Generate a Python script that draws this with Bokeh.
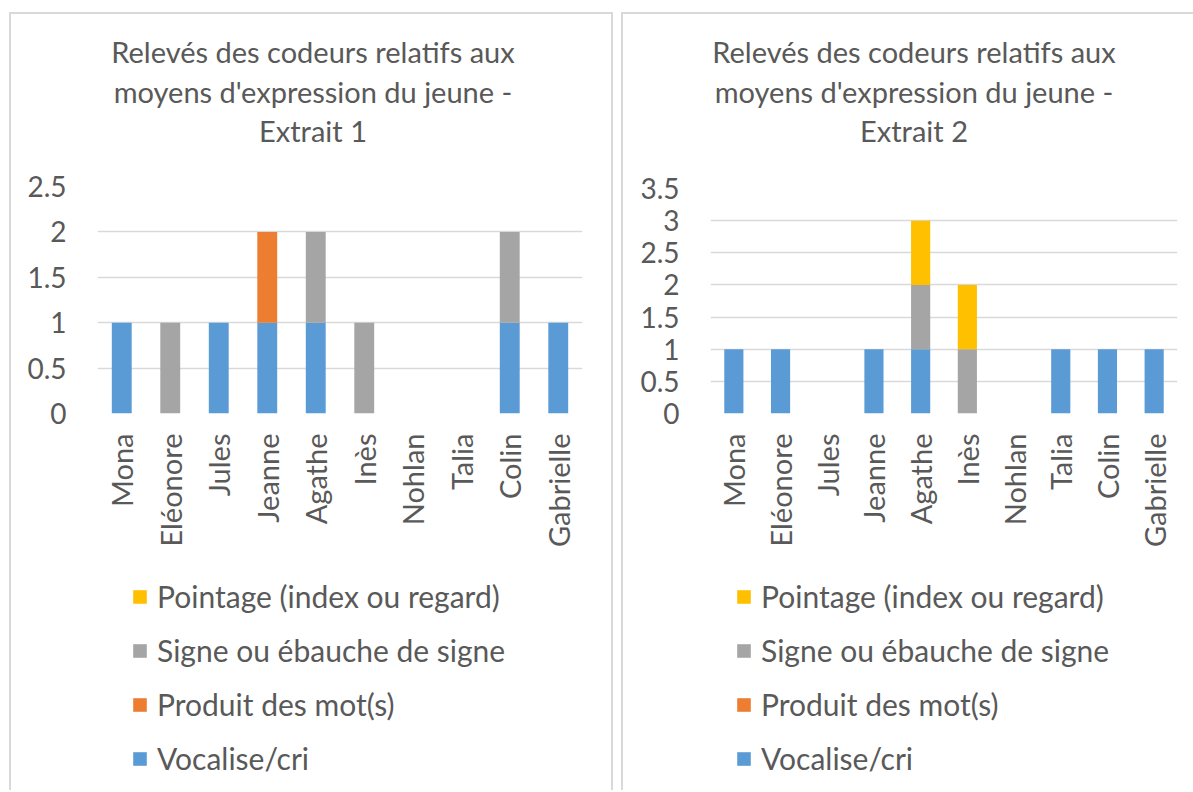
import math
from bokeh.plotting import figure
from bokeh.models import Legend, LegendItem, FactorRange, Range1d, SingleIntervalTicker, Spacer
from bokeh.layouts import row, column
from bokeh.embed import file_html
from bokeh.resources import INLINE
from bokeh.core.properties import value

names = ["Mona", "Eléonore", "Jules", "Jeanne", "Agathe", "Inès", "Nohlan", "Talia", "Colin", "Gabrielle"]
series = ["Vocalise/cri", "Produit des mot(s)", "Signe ou ébauche de signe", "Pointage (index ou regard)"]
colors = ["#5B9BD5", "#ED7D31", "#A5A5A5", "#FFC000"]

# Extrait 1
vocalise_1 = [1, 0, 1, 1, 1, 0, 0, 0, 1, 1]
produit_1 = [0, 0, 0, 1, 0, 0, 0, 0, 0, 0]
signe_1 = [0, 1, 0, 0, 1, 1, 0, 0, 1, 0]
pointage_1 = [0, 0, 0, 0, 0, 0, 0, 0, 0, 0]

# Extrait 2
vocalise_2 = [1, 1, 0, 1, 1, 0, 0, 1, 1, 1]
produit_2 = [0, 0, 0, 0, 0, 0, 0, 0, 0, 0]
signe_2 = [0, 0, 0, 0, 1, 1, 0, 0, 0, 0]
pointage_2 = [0, 0, 0, 0, 1, 1, 0, 0, 0, 0]

title_1 = ["Relevés des codeurs relatifs aux", "moyens d'expression du jeune -", "Extrait 1"]
title_2 = ["Relevés des codeurs relatifs aux", "moyens d'expression du jeune -", "Extrait 2"]

FONT = "Lato"
TXT = "#595959"
GRID = "#d9d9d9"
BORDER = "2px solid #d9d9d9"

TITLE_H = 150
CHART_H = 386
LEG_H = 240


def bare(width, height, fl, fr):
    # the column aligns this frame with the chart frame below it (fl..fr)
    f = figure(width=width, height=height, x_range=Range1d(fl, fr), y_range=Range1d(height, 0),
               output_backend="svg", toolbar_location=None,
               min_border_left=fl, min_border_right=width - fr, min_border_top=0, min_border_bottom=0,
               x_axis_location=None, y_axis_location=None)
    f.title.visible = False
    f.grid.visible = False
    f.outline_line_color = None
    return f


def make_title(lines, width, fl, fr, cx):
    t = bare(width, TITLE_H, fl, fr)
    t.text(x=[cx] * len(lines), y=[37, 76.5, 116], text=lines,
           text_align="center", text_baseline="alphabetic",
           text_font=value(FONT), text_font_size="29px", text_color=TXT)
    return t


def make_chart(vals, ymax, width, fl, fr, ft, fb):
    data = {"name": names}
    for s, v in zip(series, vals):
        data[s] = v
    p = figure(x_range=FactorRange(*names, range_padding=0), y_range=Range1d(0, ymax),
               width=width, height=CHART_H, output_backend="svg", toolbar_location=None,
               min_border_left=fl, min_border_right=width - fr, min_border_top=ft,
               min_border_bottom=CHART_H - fb)
    p.title.visible = False
    rs = p.vbar_stack(series, x="name", width=0.41, color=colors, line_color=None, source=data)
    p.outline_line_color = None
    p.xgrid.grid_line_color = None
    p.ygrid.grid_line_color = GRID
    p.ygrid.grid_line_width = 1.5
    p.yaxis.ticker = SingleIntervalTicker(interval=0.5)
    for ax in (p.xaxis[0], p.yaxis[0]):
        ax.axis_line_color = None
        ax.major_tick_line_color = None
        ax.minor_tick_line_color = None
        ax.major_tick_out = 0
        ax.major_tick_in = 0
        ax.major_label_text_font = FONT
        ax.major_label_text_color = TXT
    p.yaxis.major_label_text_font_size = "28px"
    p.xaxis.major_label_text_font_size = "29px"
    p.yaxis.major_label_standoff = 27
    p.xaxis.major_label_orientation = math.pi / 2
    p.xaxis.major_label_standoff = 20
    return p


def make_legend(width, fl, fr, gx):
    f = bare(width, LEG_H, fl, fr)
    proxies = []
    for c in colors:
        # zero-size proxy bars: only their legend swatch is visible
        proxies.append(f.vbar(x=[fl], top=[0], bottom=[0], width=0, color=c, line_color=None))
    items = [LegendItem(label=s, renderers=[r]) for s, r in zip(series, proxies)][::-1]
    leg = Legend(items=items, location=(gx, 14), orientation="vertical",
                 label_text_font=FONT, label_text_font_size="30px", label_text_color=TXT,
                 glyph_width=17, glyph_height=17, label_standoff=9, label_height=36, spacing=18,
                 padding=0, margin=0, border_line_color=None, background_fill_alpha=0)
    f.add_layout(leg)
    return f


t1 = make_title(title_1, 600, 86, 571, 301.5)
c1 = make_chart([vocalise_1, produit_1, signe_1, pointage_1], 2.5, 600, 86, 571, 22, 249)
l1 = make_legend(600, 86, 571, 34)
t2 = make_title(title_2, 570, 87, 554, 290.5)
c2 = make_chart([vocalise_2, produit_2, signe_2, pointage_2], 3.5, 570, 87, 554, 24, 249)
l2 = make_legend(570, 87, 554, 25)

panel1 = column(t1, c1, l1, spacing=0,
                styles={"border-top": BORDER, "border-left": BORDER, "border-right": BORDER})
panel2 = column(t2, c2, l2, spacing=0,
                styles={"border-top": BORDER, "border-left": BORDER})

layout = column(Spacer(height=12, width=1193),
                row(Spacer(width=9, height=10), panel1, Spacer(width=8, height=10), panel2, spacing=0),
                spacing=0)
open("out.html", "w").write(file_html(layout, INLINE))
